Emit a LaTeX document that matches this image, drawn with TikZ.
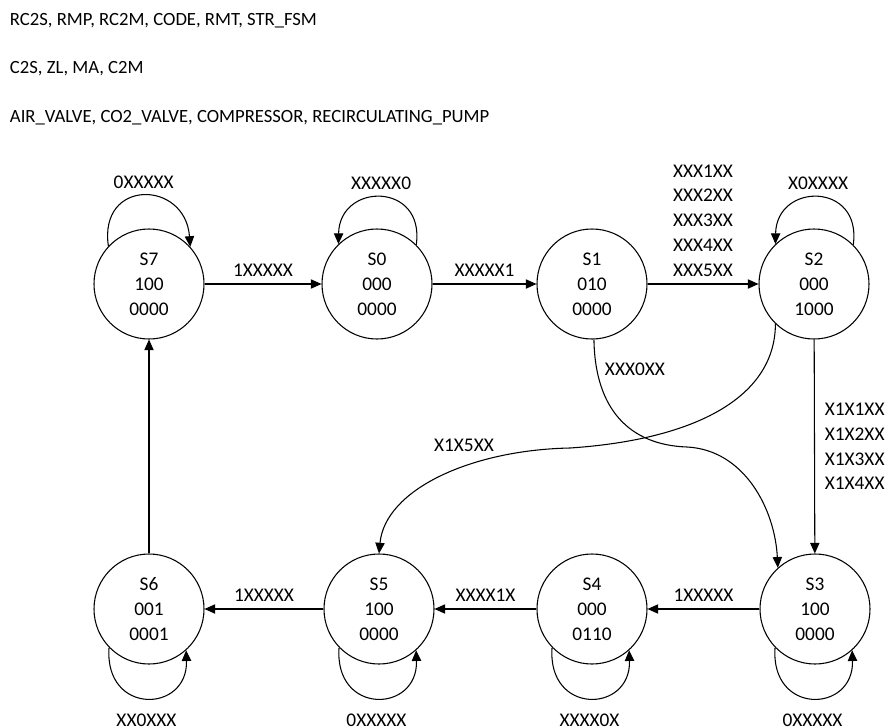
\documentclass[tikz,border=0pt]{standalone}
\usepackage{fontspec}
\setmainfont{Carlito}
\usetikzlibrary{arrows.meta}

\begin{document}
\begin{tikzpicture}[x=0.75pt, y=-0.75pt, line width=0.8pt,
    font=\fontsize{14.5}{18.6}\selectfont,
    >={Triangle[length=8pt,width=7pt]},
    st/.style={circle, draw, minimum size=82.5pt, inner sep=0pt, align=center},
    sig/.style={anchor=base west, font=\fontsize{14}{17}\selectfont}]
    \useasboundingbox (0,0) rectangle (889,728);

    % Signal lists
    \node[sig] (ins) at (5,25) {RC2S, RMP, RC2M, CODE, RMT, STR\_FSM};
    \node[sig] (outs) at (5,73) {C2S, ZL, MA, C2M};
    \node[sig] (acts) at (5,122) {AIR\_VALVE, CO2\_VALVE, COMPRESSOR, RECIRCULATING\_PUMP};

    % States: name / x / y / outputs / actuators
    \foreach \n/\x/\y/\a/\b in {S7/149/284/100/0000, S0/377/284/000/0000,
        S1/592/284/010/0000, S2/814/284/000/1000, S6/149/609/001/0001,
        S5/379/609/100/0000, S4/592/609/000/0110, S3/815/609/100/0000} {
        \node[st] (\n) at (\x,\y) {\n\\\a\\\b};
    }

    % Self loops on top
    \draw[->] (S7.137) .. controls +(-10,-68) and +(-5,-67) .. node[midway, above=2pt] {0XXXXX} (S7.42);
    \foreach \n/\lab in {S0/XXXXX0, S2/X0XXXX} {
        \draw[->] (\n.45) .. controls +(9,-63) and +(1,-62) .. node[midway, above=2pt] {\lab} (\n.134);
    }

    % Self loops below
    \foreach \n/\lab in {S6/XX0XXX, S5/0XXXXX, S4/XXXX0X, S3/0XXXXX} {
        \draw[->] (\n.224) .. controls +(-5,68) and +(2,63) .. node[midway, below=10.3pt, inner sep=1pt] {\lab} (\n.312);
    }

    % Transitions
    \draw[->] (S7) -- node[above=2pt] {1XXXXX} (S0);
    \draw[->] (S0) -- node[above=2pt] {XXXXX1} (S1);
    \draw[->] (S1) -- node[above=2pt, align=center] {XXX1XX\\XXX2XX\\XXX3XX\\XXX4XX\\XXX5XX} (S2);
    \draw[->] (S2) -- node[right=4pt, align=center] {X1X1XX\\X1X2XX\\X1X3XX\\X1X4XX} (S3);
    \draw[->] (S3) -- node[above=2pt] {1XXXXX} (S4);
    \draw[->] (S4) -- node[above=2pt] {XXXX1X} (S5);
    \draw[->] (S5) -- node[above=2pt] {1XXXXX} (S6);
    \draw[->] (S6) -- (S7);

    % Crossing curves
    \draw[->] (S1.-88) .. controls (595,410) and (630,445) .. node[pos=0.15, right=2.5pt] {XXX0XX}
        (687,447) .. controls (745,450) and (775,510) .. (S3.132);
    \draw[->] (S2.226) .. controls (775,400) and (690,440) .. (570,448)
        .. controls (470,450) and (385,490) .. node[pos=0.25, above left=0pt] {X1X5XX} (S5.north);

\end{tikzpicture}
\end{document}
